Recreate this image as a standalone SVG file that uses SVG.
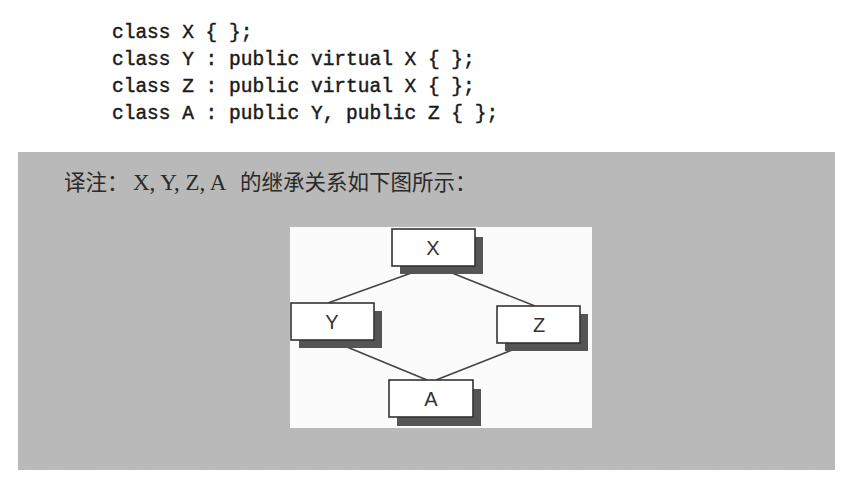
<svg xmlns="http://www.w3.org/2000/svg" width="853" height="488" viewBox="0 0 853 488">
<defs>
<filter id="grain" x="0" y="0" width="100%" height="100%">
<feTurbulence type="fractalNoise" baseFrequency="0.9" numOctaves="2" seed="3" result="n"/>
<feColorMatrix in="n" type="matrix" values="0 0 0 0 0.45  0 0 0 0 0.45  0 0 0 0 0.45  0 0 0 0.35 0"/>
</filter>
</defs>
<style>
.code{font-family:"Liberation Mono","DejaVu Sans Mono",monospace;font-size:19.5px;fill:#1a1a1a;stroke:#1a1a1a;stroke-width:0.45;}
.note{fill:#2a2a2a;}
.cjk{font-family:"Noto Sans CJK SC",sans-serif;font-size:21.5px;}
.lat{font-family:"Liberation Serif",serif;font-size:23px;}
.box{fill:#fff;stroke:#333;stroke-width:1.6;}
.shadow{fill:#555;}
.lbl{font-family:"Liberation Sans",Arial,sans-serif;font-size:20px;fill:#333;text-anchor:middle;}
.edge{stroke:#444;stroke-width:1.6;fill:none;}
</style>
<rect width="853" height="488" fill="#fff"/>
<g id="code">
<text class="code" x="112" y="38">class X { };</text>
<text class="code" x="112" y="65">class Y : public virtual X { };</text>
<text class="code" x="112" y="92">class Z : public virtual X { };</text>
<text class="code" x="112" y="119">class A : public Y, public Z { };</text>
</g>
<rect id="panel" x="18" y="152" width="817" height="318" fill="#bababa"/>
<rect x="18" y="152" width="817" height="318" filter="url(#grain)" opacity="0.6"/>
<text class="note" y="190"><tspan class="cjk" x="64">译注：</tspan><tspan class="lat" x="133">X, Y, Z, A</tspan><tspan class="cjk" x="240">的继承关系如下图所示：</tspan></text>
<rect id="canvas" x="290" y="227" width="302" height="201" fill="#fbfbfb"/>
<g id="connectors">
<line class="edge" x1="328" y1="303" x2="428" y2="267"/>
<line class="edge" x1="437" y1="267" x2="535" y2="306"/>
<line class="edge" x1="330" y1="340" x2="427" y2="380"/>
<line class="edge" x1="436" y1="380" x2="530" y2="343"/>
</g>
<g id="node-X">
<rect class="shadow" x="400" y="237" width="83" height="37"/>
<rect class="box" x="392" y="229" width="83" height="37"/>
<text class="lbl" x="433" y="255">X</text>
</g>
<g id="node-Y">
<rect class="shadow" x="299" y="311" width="83" height="37"/>
<rect class="box" x="291" y="303" width="83" height="37"/>
<text class="lbl" x="332" y="329">Y</text>
</g>
<g id="node-Z">
<rect class="shadow" x="505" y="314" width="83" height="37"/>
<rect class="box" x="497" y="306" width="83" height="37"/>
<text class="lbl" x="539" y="332">Z</text>
</g>
<g id="node-A">
<rect class="shadow" x="397" y="389" width="84" height="37"/>
<rect class="box" x="389" y="380" width="84" height="37"/>
<text class="lbl" x="431" y="406">A</text>
</g>
</svg>
